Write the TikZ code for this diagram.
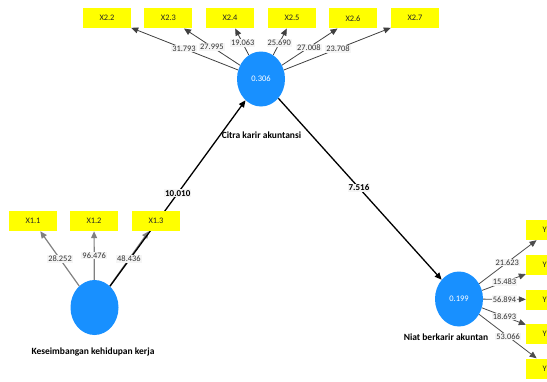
\documentclass[tikz,border=0pt]{standalone}
\usepackage{fontspec}
\setmainfont{Carlito}
\usetikzlibrary{shapes.geometric,arrows.meta,backgrounds}
\definecolor{plsblue}{RGB}{24,144,255}
\definecolor{plsyellow}{RGB}{255,255,0}
\begin{document}
\begin{tikzpicture}[x=1pt,y=-1pt,
  lat/.style={ellipse,fill=plsblue,minimum width=48pt,minimum height=55pt,inner sep=0pt,text=white,font=\fontsize{8.5}{10}\selectfont},
  ind/.style={rectangle,fill=plsyellow,minimum width=48pt,minimum height=20pt,inner sep=0pt,text=black!85,font=\fontsize{8.4}{10}\selectfont},
  lvname/.style={font=\bfseries\fontsize{9.5}{11}\selectfont,text=black,inner sep=1pt},
  wlbl/.style={fill=black!4,inner sep=1pt,text=black!80,font=\fontsize{8.4}{10}\selectfont},
  plbl/.style={fill=black!4,inner sep=1pt,text=black,font=\bfseries\fontsize{9}{10}\selectfont},
  tip/.style={-{Triangle[length=7pt,width=6pt]}},
  outa/.style={tip,draw=black!75,line width=0.8pt},
  outb/.style={tip,draw=black!50,line width=1.2pt},
  outc/.style={tip,draw=black!70,line width=0.8pt},
  patharr/.style={tip,draw=black,line width=1.3pt}]
\useasboundingbox (0,0) rectangle (547,381);
% latent variables
\node[lat] (kk) at (94.5,307.5) {};
\node[lat] (ck) at (261,79) {0.306};
\node[lat] (nb) at (459,299) {0.199};
\node[lvname] (kkn) at (93,352) {Keseimbangan kehidupan kerja};
\node[lvname] (ckn) at (261.5,135.5) {Citra karir akuntansi};
\node[lvname] (nbn) at (446,337) {Niat berkarir akuntan};
% indicators
\node[ind] (x11) at (33,221) {X1.1};
\node[ind] (x12) at (94,221) {X1.2};
\node[ind] (x13) at (156,221) {X1.3};
\node[ind] (x22) at (107,18.3) {X2.2};
\node[ind] (x23) at (168.4,18.3) {X2.3};
\node[ind] (x24) at (230,18.3) {X2.4};
\node[ind] (x25) at (292,18.3) {X2.5};
\node[ind] (x26) at (353,18.3) {X2.6};
\node[ind] (x27) at (415,18.3) {X2.7};
\node[ind] (y11) at (550,230) {Y1.1};
\node[ind] (y12) at (550,265) {Y1.2};
\node[ind] (y13) at (550,299.5) {Y1.3};
\node[ind] (y14) at (550,334) {Y1.4};
\node[ind] (y15) at (550,368.5) {Y1.5};
% connectors
\begin{scope}[on background layer]
\draw[outb] (kk) -- (x11);
\draw[outb] (kk) -- (x12);
\draw[outb] (kk) -- (x13);
\draw[outa] (ck) -- (x22);
\draw[outa] (ck) -- (x23);
\draw[outa] (ck) -- (x24);
\draw[outa] (ck) -- (x25);
\draw[outa] (ck) -- (x26);
\draw[outa] (ck) -- (x27);
\draw[outc] (nb) -- (y11);
\draw[outc] (nb) -- (y12);
\draw[outc] (nb) -- (y13);
\draw[outc] (nb) -- (y14);
\draw[outc] (nb) -- (y15);
\draw[patharr] (kk) -- (ck);
\draw[patharr] (ck) -- (nb);
\end{scope}
% labels
\path (kk.center) -- (x11.center) node[wlbl,pos=0.56] {28.252};
\path (kk.center) -- (x12.center) node[wlbl,pos=0.60] {96.476};
\path (kk.center) -- (x13.center) node[wlbl,pos=0.56] {48.436};
\path (ck.center) -- (x22.center) node[wlbl,pos=0.50] {31.793};
\path (ck.center) -- (x23.center) node[wlbl,pos=0.53] {27.995};
\path (ck.center) -- (x24.center) node[wlbl,pos=0.59] {19.063};
\path (ck.center) -- (x25.center) node[wlbl,pos=0.59] {25.690};
\path (ck.center) -- (x26.center) node[wlbl,pos=0.52] {27.008};
\path (ck.center) -- (x27.center) node[wlbl,pos=0.50] {23.708};
\path (nb.center) -- (y11.center) node[wlbl,pos=0.53] {21.623};
\path (nb.center) -- (y12.center) node[wlbl,pos=0.50] {15.483};
\path (nb.center) -- (y13.center) node[wlbl,pos=0.50] {56.894};
\path (nb.center) -- (y14.center) node[wlbl,pos=0.50] {18.693};
\path (nb.center) -- (y15.center) node[wlbl,pos=0.54] {53.066};
\path (kk.center) -- (ck.center) node[plbl,pos=0.50] {10.010};
\path (ck.center) -- (nb.center) node[plbl,pos=0.495] {7.516};
\end{tikzpicture}
\end{document}
